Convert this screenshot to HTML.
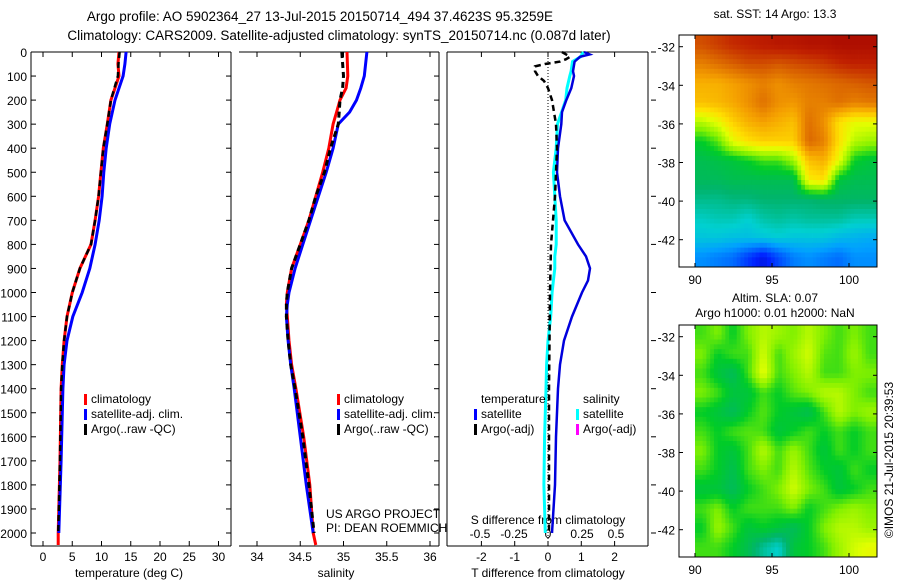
<!DOCTYPE html>
<html><head><meta charset="utf-8">
<style>
body{margin:0;background:#fff;}
svg{display:block;font-family:"Liberation Sans",sans-serif;}
</style></head>
<body>
<svg id="fig" width="900" height="580" viewBox="0 0 900 580">
<text x="320" y="21" font-size="13.5" text-anchor="middle">Argo profile: AO 5902364_27 13-Jul-2015 20150714_494 37.4623S 95.3259E</text>
<text x="339" y="40" font-size="13.5" text-anchor="middle">Climatology: CARS2009. Satellite-adjusted climatology: synTS_20150714.nc (0.087d later)</text>
<g id="g1"></g>
<g id="g2"></g>
<g id="g3"></g>
<g id="g4"></g>
<g id="g5"></g>
<text transform="translate(893,460) rotate(-90)" font-size="12" text-anchor="middle">©IMOS 21-Jul-2015 20:39:53</text>
</svg>
<script>
// ---- data ----
const tDepth = [0,50,100,150,200,300,400,500,600,700,800,900,1000,1100,1200,1300,1400,1700,2000,2050];
const tClim  = [13.0,12.8,13.0,12.3,11.6,11.0,10.3,9.9,9.5,8.9,8.2,6.3,5.0,4.1,3.6,3.3,3.1,2.9,2.6,2.6];
const tSat   = [14.2,14.0,13.7,13.0,12.3,11.4,10.8,10.4,10.1,9.6,8.9,8.0,6.7,5.1,4.1,3.6,3.4,3.1,2.7];
const tArgo  = [13.1,12.9,12.8,12.2,11.6,11.0,10.3,9.9,9.5,8.9,8.2,6.3,5.0,4.1,3.6,3.3,3.1,2.9,2.6];
const sDepth = [0,100,150,200,250,300,400,500,600,700,800,900,1000,1050,1100,1200,1300,1400,1600,1800,2000,2050];
const sClim  = [35.04,35.05,35.03,34.96,34.92,34.88,34.83,34.76,34.68,34.60,34.50,34.40,34.35,34.34,34.35,34.37,34.40,34.45,34.54,34.61,34.65,34.68];
const sSat   = [35.27,35.24,35.20,35.15,35.07,34.94,34.88,34.80,34.71,34.62,34.53,34.44,34.37,34.35,34.34,34.36,34.39,34.43,34.50,34.57,34.65];
const sArgo  = [34.98,35.00,34.99,34.96,34.95,34.94,34.85,34.78,34.68,34.60,34.50,34.40,34.35,34.34,34.34,34.36,34.39,34.44,34.53,34.60,34.66];
const dDepth = [0,10,20,40,80,100,150,200,250,300,400,500,600,700,800,850,900,950,1000,1100,1200,1300,1400,1600,1800,2000];
const dTsat  = [1.08,1.25,0.96,0.80,0.75,0.78,0.70,0.55,0.42,0.40,0.30,0.27,0.36,0.50,0.90,1.14,1.26,1.20,1.02,0.72,0.48,0.36,0.30,0.24,0.21,0.12];
const dSsat  = [0.26,0.25,0.24,0.18,0.17,0.16,0.14,0.13,0.10,0.07,0.06,0.04,0.05,0.06,0.06,0.05,0.05,0.04,0.03,0.02,0.0,-0.01,-0.015,-0.025,-0.03,-0.02];
const aDepth = [0,20,30,40,50,60,80,100,120,150,200,300,400,500,600,700,800,1000,1400,2000];
const dTargo = [0.42,0.66,0.54,0.36,-0.09,-0.39,-0.39,-0.30,-0.12,0.0,0.12,0.24,0.27,0.24,0.21,0.15,0.09,0.06,0.03,0.03];
const depthTicks = [0,100,200,300,400,500,600,700,800,900,1000,1100,1200,1300,1400,1500,1600,1700,1800,1900,2000];
const tTicks = [0,5,10,15,20,25,30];
const sTicks = [34,34.5,35,35.5,36];
const sTickLabels = ["34","34.5","35","35.5","36"];
const dTTicks = [-2,-1,0,1,2];
const dSTicks = [-0.5,-0.25,0,0.25,0.5];
const latTicks = [-32,-34,-36,-38,-40,-42];
const lonTicks = [90,95,100];
const sstGrid = [
[0.88,0.90,0.92,0.93,0.94,0.95,0.95,0.96,0.96,0.97,0.97,0.97],
[0.82,0.84,0.86,0.88,0.88,0.87,0.88,0.89,0.90,0.92,0.93,0.93],
[0.76,0.76,0.78,0.80,0.82,0.80,0.82,0.83,0.84,0.85,0.86,0.87],
[0.74,0.75,0.77,0.80,0.84,0.80,0.79,0.82,0.82,0.84,0.82,0.83],
[0.62,0.66,0.72,0.76,0.78,0.76,0.74,0.84,0.80,0.70,0.66,0.66],
[0.52,0.56,0.66,0.70,0.72,0.72,0.72,0.85,0.82,0.70,0.62,0.60],
[0.48,0.49,0.50,0.52,0.55,0.55,0.60,0.74,0.76,0.66,0.52,0.50],
[0.47,0.47,0.48,0.48,0.48,0.48,0.48,0.68,0.70,0.50,0.48,0.48],
[0.43,0.43,0.44,0.44,0.45,0.45,0.45,0.45,0.46,0.46,0.46,0.46],
[0.39,0.40,0.40,0.38,0.41,0.42,0.41,0.42,0.42,0.42,0.40,0.40],
[0.36,0.36,0.35,0.35,0.36,0.37,0.36,0.36,0.36,0.34,0.33,0.32],
[0.28,0.26,0.24,0.18,0.12,0.20,0.26,0.28,0.26,0.24,0.28,0.28]];
const slaGrid = [
[0.55,0.58,0.52,0.58,0.62,0.60,0.58,0.62,0.58,0.55,0.58,0.55],
[0.58,0.52,0.55,0.55,0.64,0.55,0.60,0.64,0.56,0.55,0.60,0.55],
[0.55,0.50,0.47,0.55,0.66,0.55,0.58,0.62,0.55,0.55,0.58,0.58],
[0.58,0.55,0.50,0.50,0.55,0.52,0.56,0.58,0.62,0.62,0.58,0.55],
[0.52,0.50,0.47,0.52,0.56,0.52,0.50,0.48,0.55,0.62,0.58,0.60],
[0.55,0.52,0.55,0.56,0.55,0.50,0.52,0.55,0.52,0.55,0.52,0.55],
[0.58,0.52,0.50,0.55,0.62,0.55,0.60,0.55,0.50,0.55,0.52,0.55],
[0.55,0.52,0.48,0.55,0.58,0.55,0.62,0.56,0.52,0.50,0.55,0.52],
[0.50,0.50,0.47,0.52,0.55,0.58,0.64,0.58,0.55,0.50,0.52,0.55],
[0.55,0.58,0.52,0.55,0.55,0.55,0.58,0.52,0.55,0.58,0.60,0.58],
[0.52,0.60,0.55,0.50,0.52,0.50,0.47,0.52,0.58,0.62,0.62,0.60],
[0.55,0.55,0.52,0.48,0.42,0.38,0.50,0.52,0.55,0.60,0.64,0.66]];

// ---- helpers ----
const NS="http://www.w3.org/2000/svg";
function mk(parent,tag,attrs,text){const e=document.createElementNS(NS,tag);for(const k in attrs)e.setAttribute(k,attrs[k]);if(text!==undefined)e.textContent=text;parent.appendChild(e);return e;}
const Y0=52, YPER=0.2405, BOT=546;
const yD = d => Y0 + d*YPER;
const xT = t => 43 + t*5.85;
const xS = s => 257 + (s-34)*86.5;
const xDT = d => 548 + d*33.3;
const xDS = s => 548 + s*136;

function frame(g,x0,x1,left,right){
  mk(g,'line',{x1:x0,y1:Y0,x2:x1,y2:Y0,stroke:'#000'});
  mk(g,'line',{x1:x0,y1:BOT,x2:x1,y2:BOT,stroke:'#000'});
  if(left) mk(g,'line',{x1:x0,y1:Y0,x2:x0,y2:BOT,stroke:'#000'});
  if(right) mk(g,'line',{x1:x1,y1:Y0,x2:x1,y2:BOT,stroke:'#000'});
}
function depthTickMarks(g,x,dir){
  depthTicks.forEach(d=>{mk(g,'line',{x1:x,y1:yD(d),x2:x+dir*5,y2:yD(d),stroke:'#000'});});
}
function xTicks(g,vals,fx){
  vals.forEach(v=>{const x=fx(v);
    mk(g,'line',{x1:x,y1:Y0,x2:x,y2:Y0+5,stroke:'#000'});
    mk(g,'line',{x1:x,y1:BOT,x2:x,y2:BOT-5,stroke:'#000'});});
}
function line(g,xs,ds,fx,color,w,dash,name){
  const pts=xs.map((v,i)=>fx(v).toFixed(1)+','+yD(ds[i]).toFixed(1)).join(' ');
  const p=mk(g,'polyline',{points:pts,fill:'none',stroke:color,'stroke-width':w,'stroke-dasharray':dash||'none'});
  
  
}
function legend(g,x,y,items,name){
  items.forEach((it,i)=>{
    const r=mk(g,'rect',{x:x,y:y+i*15-9,width:3,height:11,fill:it[1]});
    
    
    const t=mk(g,'text',{x:x+7,y:y+i*15,'font-size':12},it[0]);
    
    
  });
}

// ---- panel 1 ----
const g1=document.getElementById('g1');
frame(g1,31,231,true,true);
depthTickMarks(g1,31,1); depthTickMarks(g1,231,-1);
xTicks(g1,tTicks,xT);
depthTicks.forEach(d=>{const t=mk(g1,'text',{x:27,y:yD(d)+5,'font-size':12,'text-anchor':'end'},String(d));
   });
tTicks.forEach(v=>{const t=mk(g1,'text',{x:xT(v),y:561,'font-size':12,'text-anchor':'middle'},String(v));
   });
mk(g1,'text',{x:129,y:577,'font-size':12,'text-anchor':'middle'},'temperature (deg C)');
line(g1,tClim,tDepth,xT,'#f00',3,null,'temperature-climatology-line');
line(g1,tSat,tDepth,xT,'#00f',3,null,'temperature-satellite-line');
line(g1,tArgo,tDepth,xT,'#000',2.5,'6,4','temperature-argo-line');
legend(g1,84,403,[['climatology','#f00'],['satellite-adj. clim.','#00f'],['Argo(..raw -QC)','#000']],'temperature-legend');

// ---- panel 2 ----
const g2=document.getElementById('g2');
frame(g2,239,439,false,true);
depthTickMarks(g2,439,-1);
xTicks(g2,sTicks,xS);
sTicks.forEach((v,i)=>{const t=mk(g2,'text',{x:xS(v),y:561,'font-size':12,'text-anchor':'middle'},sTickLabels[i]);
   });
mk(g2,'text',{x:336,y:577,'font-size':12,'text-anchor':'middle'},'salinity');
line(g2,sClim,sDepth,xS,'#f00',3,null,'salinity-climatology-line');
line(g2,sSat,sDepth,xS,'#00f',3,null,'salinity-satellite-line');
line(g2,sArgo,sDepth,xS,'#000',3,'6,4','salinity-argo-line');
legend(g2,337,403,[['climatology','#f00'],['satellite-adj. clim.','#00f'],['Argo(..raw -QC)','#000']],'salinity-legend');
mk(g2,'text',{x:326,y:518,'font-size':12},'US ARGO PROJECT');
mk(g2,'text',{x:326,y:532,'font-size':12},'PI: DEAN ROEMMICH');

// ---- panel 3 ----
const g3=document.getElementById('g3');
frame(g3,447,648,true,true);
depthTicks.forEach(d=>{if(d%200===0) mk(g3,'line',{x1:651,y1:yD(d),x2:656,y2:yD(d),stroke:'#000'});});
xTicks(g3,dTTicks,xDT);
mk(g3,'line',{x1:548,y1:Y0,x2:548,y2:BOT,stroke:'#000','stroke-dasharray':'1,2'});
dTTicks.forEach(v=>{const t=mk(g3,'text',{x:xDT(v),y:561,'font-size':12,'text-anchor':'middle'},String(v));
   });
dSTicks.forEach(v=>{const t=mk(g3,'text',{x:xDS(v),y:538,'font-size':12,'text-anchor':'middle'},String(v));
   });
mk(g3,'text',{x:548,y:524,'font-size':12,'text-anchor':'middle'},'S difference from climatology');
mk(g3,'text',{x:548,y:577,'font-size':12,'text-anchor':'middle'},'T difference from climatology');
line(g3,dSsat,dDepth,xDS,'#0ff',3,null,'s-diff-satellite-line');
line(g3,dTsat,dDepth,xDT,'#00d',2.5,null,'t-diff-satellite-line');
line(g3,dTargo,aDepth,xDT,'#000',2.5,'6,4','t-diff-argo-line');
mk(g3,'text',{x:481,y:403,'font-size':12},'temperature');
mk(g3,'text',{x:583,y:403,'font-size':12},'salinity');
legend(g3,474,418,[['satellite','#00f'],['Argo(-adj)','#000']],'t-diff-legend');
legend(g3,576,418,[['satellite','#0ff'],['Argo(-adj)','#f0f']],'s-diff-legend');

// ---- maps ----
const stops=[[0,[0,0,127]],[0.15,[0,32,255]],[0.3,[0,160,255]],[0.38,[0,208,208]],[0.45,[0,180,110]],[0.52,[0,204,40]],[0.58,[128,240,0]],[0.65,[224,255,0]],[0.7,[255,224,0]],[0.78,[245,160,0]],[0.86,[216,96,0]],[0.93,[192,32,0]],[1,[160,0,0]]];
function cmap(v){for(let i=1;i<stops.length;i++){if(v<=stops[i][0]){const a=stops[i-1],b=stops[i];const f=(v-a[0])/(b[0]-a[0]);
  const c=a[1].map((x,k)=>Math.round(x+(b[1][k]-x)*f));return 'rgb('+c.join(',')+')';}}return 'rgb(160,0,0)';}
function sample(grid,fr,fc){
  const rows=grid.length, cols=grid[0].length;
  const r=Math.max(0,Math.min(rows-1,fr)), c=Math.max(0,Math.min(cols-1,fc));
  const r0=Math.floor(r), c0=Math.floor(c), r1=Math.min(rows-1,r0+1), c1=Math.min(cols-1,c0+1);
  const a=r-r0, b=c-c0;
  return grid[r0][c0]*(1-a)*(1-b)+grid[r0][c1]*(1-a)*b+grid[r1][c0]*a*(1-b)+grid[r1][c1]*a*b;
}
function map(id,top,grid,prefix){
  const g=document.getElementById(id);
  const L=679,R=877,B=top+232,X0=695,X1=877;
  const lat=v=>top+11.7+(-32-v)*19.3;
  const lon=v=>695+(v-90)*15.4;
  const rows=grid.length, cols=grid[0].length;
  const SUB=4;
  const cw=(X1-X0)/(cols*SUB), ch=(B-top)/(rows*SUB);
  for(let r=0;r<rows*SUB;r++)for(let c=0;c<cols*SUB;c++){
    const v=sample(grid,(r+0.5)/SUB-0.5,(c+0.5)/SUB-0.5);
    const e=mk(g,'rect',{x:(X0+c*cw).toFixed(2),y:(top+r*ch).toFixed(2),width:(cw+0.4).toFixed(2),height:(ch+0.4).toFixed(2),fill:cmap(v)});
    
    
  }
  mk(g,'rect',{x:L,y:top,width:R-L,height:B-top,fill:'none',stroke:'#000'});
  latTicks.forEach(v=>{mk(g,'line',{x1:L,y1:lat(v),x2:L+4,y2:lat(v),stroke:'#000'});mk(g,'line',{x1:R,y1:lat(v),x2:R-4,y2:lat(v),stroke:'#000'});
    const t=mk(g,'text',{x:675,y:lat(v)+5,'font-size':12,'text-anchor':'end'},String(v));
     });
  lonTicks.forEach(v=>{mk(g,'line',{x1:lon(v),y1:top,x2:lon(v),y2:top+4,stroke:'#000'});mk(g,'line',{x1:lon(v),y1:B,x2:lon(v),y2:B-4,stroke:'#000'});
    const t=mk(g,'text',{x:lon(v),y:B+17,'font-size':12,'text-anchor':'middle'},String(v));
     });
}
map('g4',35,sstGrid,'sst');
map('g5',325,slaGrid,'sla');
const g4=document.getElementById('g4'), g5=document.getElementById('g5');
mk(g4,'text',{x:775,y:18,'font-size':12,'text-anchor':'middle'},'sat. SST: 14  Argo: 13.3');
mk(g5,'text',{x:775,y:302,'font-size':12,'text-anchor':'middle'},'Altim. SLA: 0.07');
mk(g5,'text',{x:775,y:317,'font-size':12,'text-anchor':'middle'},'Argo h1000: 0.01 h2000: NaN');
</script>
</body></html>
